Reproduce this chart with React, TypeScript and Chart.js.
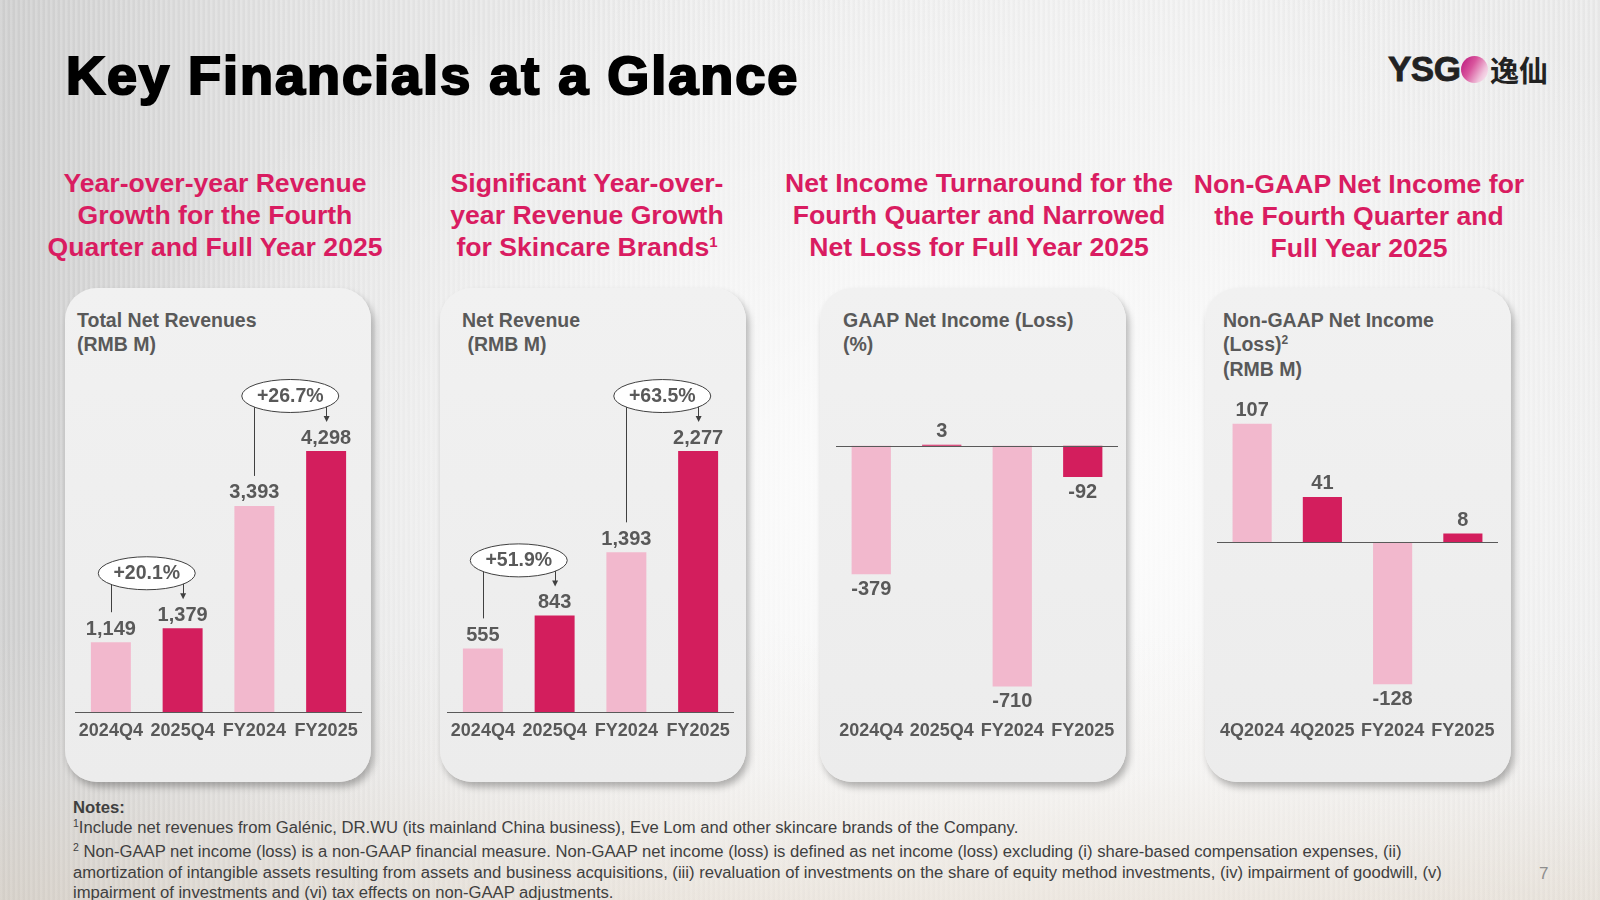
import React, { useEffect, useRef } from "react";
import { Chart, registerables } from "chart.js";

Chart.register(...registerables);

const FONT = "'Liberation Sans', Arial, Helvetica, sans-serif";
const LIGHT_PINK = "#F2B8CD";
const DEEP_PINK = "#D31E5D";
const TEXT_GRAY = "#595959";
const TITLE_PINK = "#D91C61";

// Total net revenues (RMB M)
const revenueCategories = ["2024Q4", "2025Q4", "FY2024", "FY2025"];
const totalNetRevenues = [1149, 1379, 3393, 4298];
const totalRevenueGrowth = ["+20.1%", "+26.7%"];

// Net revenue of skincare brands (RMB M)
const skincareNetRevenues = [555, 843, 1393, 2277];
const skincareRevenueGrowth = ["+51.9%", "+63.5%"];

// GAAP net income (loss)
const gaapCategories = ["2024Q4", "2025Q4", "FY2024", "FY2025"];
const gaapNetIncome = [-379, 3, -710, -92];

// Non-GAAP net income (loss) (RMB M)
const nonGaapCategories = ["4Q2024", "4Q2025", "FY2024", "FY2025"];
const nonGaapNetIncome = [107, 41, -128, 8];

// Value-axis ranges of each panel [min, max]
const totalRevenueAxis = [0, 5220];
const skincareRevenueAxis = [0, 2766];
const gaapAxis = [-785, 150];
const nonGaapAxis = [-153, 133];

const barColors = [LIGHT_PINK, DEEP_PINK, LIGHT_PINK, DEEP_PINK];

// Draws value labels, the zero line and the growth bubbles with their connectors.
const panelMarks = {
  id: "panelMarks",
  afterDatasetsDraw(chart: any, _args: any, opts: any) {
    const { ctx, chartArea, scales } = chart;
    const y = scales.y;
    const meta = chart.getDatasetMeta(0);
    const values = chart.data.datasets[0].data as number[];
    ctx.save();

    if (opts.zeroLine) {
      const y0 = Math.round(y.getPixelForValue(0)) + 0.5;
      ctx.strokeStyle = TEXT_GRAY;
      ctx.lineWidth = 1;
      ctx.beginPath();
      ctx.moveTo(chartArea.left, y0);
      ctx.lineTo(chartArea.right, y0);
      ctx.stroke();
    }

    ctx.font = `bold 20px ${FONT}`;
    ctx.fillStyle = TEXT_GRAY;
    ctx.textAlign = "center";
    ctx.textBaseline = "middle";
    meta.data.forEach((bar: any, i: number) => {
      const v = values[i];
      const py = y.getPixelForValue(v);
      ctx.fillText(v.toLocaleString("en-US"), bar.x, v >= 0 ? py - 13 : py + 15);
    });

    const growth: string[] = opts.growth || [];
    growth.forEach((label, k) => {
      const a = 2 * k;
      const b = 2 * k + 1;
      const x1 = meta.data[a].x;
      const x2 = meta.data[b].x;
      const top1 = y.getPixelForValue(values[a]);
      const top2 = y.getPixelForValue(values[b]);
      const cx = (x1 + x2) / 2;
      const cy = top2 - 55;
      const rx = 48.5;
      const ry = 16.5;

      ctx.strokeStyle = "#404040";
      ctx.fillStyle = "#404040";
      ctx.lineWidth = 1;
      // connector from the earlier bar
      ctx.beginPath();
      ctx.moveTo(Math.round(x1) + 0.5, cy);
      ctx.lineTo(Math.round(x1) + 0.5, top1 - 30);
      ctx.stroke();
      // arrow to the later bar
      const tip = top2 - 29;
      ctx.beginPath();
      ctx.moveTo(Math.round(x2) + 0.5, cy);
      ctx.lineTo(Math.round(x2) + 0.5, tip - 4);
      ctx.stroke();
      ctx.beginPath();
      ctx.moveTo(x2 + 0.5, tip);
      ctx.lineTo(x2 - 2.5, tip - 6);
      ctx.lineTo(x2 + 3.5, tip - 6);
      ctx.closePath();
      ctx.fill();

      ctx.beginPath();
      ctx.ellipse(cx, cy, rx, ry, 0, 0, Math.PI * 2);
      ctx.fillStyle = "#ffffff";
      ctx.fill();
      ctx.strokeStyle = "#404040";
      ctx.stroke();

      ctx.fillStyle = TEXT_GRAY;
      ctx.font = `bold 19.5px ${FONT}`;
      ctx.fillText(label, cx, cy + 0.5);
    });

    ctx.restore();
  },
};

type PanelProps = {
  left: number;
  width: number;
  categories: string[];
  values: number[];
  axis: number[];
  growth?: string[];
  zeroLine?: boolean;
};

const CANVAS_TOP = 370;
const CANVAS_HEIGHT = 390;

function BarPanel({ left, width, categories, values, axis, growth, zeroLine }: PanelProps) {
  const ref = useRef<HTMLCanvasElement>(null);
  useEffect(() => {
    const chart = new Chart(ref.current as HTMLCanvasElement, {
      type: "bar",
      data: {
        labels: categories,
        datasets: [
          {
            data: values,
            backgroundColor: barColors,
            borderWidth: 0,
            barPercentage: 0.557,
            categoryPercentage: 1,
          },
        ],
      },
      plugins: [panelMarks],
      options: {
        responsive: false,
        animation: false,
        events: [],
        layout: { padding: { top: 25, bottom: 0, left: 0, right: 0 } },
        plugins: {
          legend: { display: false },
          tooltip: { enabled: false },
          panelMarks: { growth: growth || [], zeroLine: !!zeroLine },
        } as any,
        scales: {
          x: {
            grid: { display: false, drawTicks: false },
            border: { display: !zeroLine, color: TEXT_GRAY, width: 1 },
            ticks: {
              color: TEXT_GRAY,
              font: { family: FONT, size: 18, weight: "bold" },
              padding: 8,
              maxRotation: 0,
              minRotation: 0,
              autoSkip: false,
            },
            afterFit: (s: any) => {
              s.height = 48;
              s.paddingLeft = 0;
              s.paddingRight = 0;
            },
          },
          y: { display: false, min: axis[0], max: axis[1] },
        },
      },
    });
    return () => chart.destroy();
  }, []);
  return (
    <canvas
      ref={ref}
      width={width}
      height={CANVAS_HEIGHT}
      style={{ position: "absolute", left, top: CANVAS_TOP, width, height: CANVAS_HEIGHT }}
    />
  );
}

function Card({ left, children }: { left: number; children?: React.ReactNode }) {
  return (
    <div
      style={{
        position: "absolute",
        left,
        top: 288,
        width: 306,
        height: 494,
        borderRadius: 32,
        background: "linear-gradient(180deg, #f1f1f1 0%, #ececec 100%)",
        boxShadow: "3px 5px 7px rgba(0,0,0,0.28)",
      }}
    >
      {children}
    </div>
  );
}

const cardTitleStyle: React.CSSProperties = {
  position: "absolute",
  top: 20,
  fontFamily: FONT,
  fontWeight: 700,
  fontSize: 19.5,
  lineHeight: "24.3px",
  color: TEXT_GRAY,
  whiteSpace: "pre",
};

const subtitleStyle: React.CSSProperties = {
  position: "absolute",
  top: 167,
  width: 440,
  textAlign: "center",
  fontFamily: FONT,
  fontWeight: 700,
  fontSize: 26.6,
  lineHeight: "32px",
  color: TITLE_PINK,
  whiteSpace: "nowrap",
};

const noteStyle: React.CSSProperties = {
  position: "absolute",
  left: 73,
  fontFamily: FONT,
  fontSize: 16.65,
  lineHeight: "20.5px",
  color: "#404040",
  whiteSpace: "nowrap",
};

export default function App() {
  return (
    <div
      style={{
        position: "absolute",
        left: 0,
        top: 0,
        width: 1600,
        height: 900,
        overflow: "hidden",
        fontFamily: FONT,
        background:
          "linear-gradient(0deg, rgba(225,210,190,0.35) 0%, rgba(240,232,222,0.15) 14%, rgba(255,255,255,0) 30%)," +
          "radial-gradient(ellipse 70% 80% at 62% 55%, rgba(255,255,255,0.95) 0%, rgba(248,248,248,0.6) 45%, rgba(255,255,255,0) 80%)," +
          "repeating-linear-gradient(90deg, rgba(255,255,255,0.10) 0px, rgba(255,255,255,0.10) 2px, rgba(0,0,0,0.025) 3px, rgba(0,0,0,0.025) 5px)," +
          "linear-gradient(90deg, #d2d2d2 0%, #e4e4e4 18%, #efefef 45%, #f2f2f2 75%, #ececec 100%)",
      }}
    >
      <div
        style={{
          position: "absolute",
          left: 66,
          top: 48,
          fontSize: 54,
          lineHeight: "54px",
          fontWeight: 700,
          letterSpacing: 2,
          WebkitTextStroke: "2.2px #000",
          color: "#000",
          whiteSpace: "nowrap",
        }}
      >
        Key Financials at a Glance
      </div>

      {/* brand mark */}
      <div
        style={{
          position: "absolute",
          left: 1388,
          top: 50,
          fontSize: 35,
          lineHeight: "38px",
          fontWeight: 700,
          color: "#222",
          letterSpacing: -0.5,
          WebkitTextStroke: "0.8px #222",
        }}
      >
        YSG
      </div>
      <div
        style={{
          position: "absolute",
          left: 1461,
          top: 56,
          width: 27,
          height: 27,
          borderRadius: "50%",
          background: "linear-gradient(120deg, #b8137a 0%, #d9559d 40%, #f0c4dc 75%, #fbf3f7 100%)",
        }}
      />
      <div
        style={{
          position: "absolute",
          left: 1490,
          top: 52,
          fontFamily: "'Noto Sans CJK SC', sans-serif",
          fontSize: 29,
          lineHeight: "34px",
          fontWeight: 700,
          color: "#222",
        }}
      >
        逸仙
      </div>

      <div style={{ ...subtitleStyle, left: 215 - 220 }}>
        Year-over-year Revenue
        <br />
        Growth for the Fourth
        <br />
        Quarter and Full Year 2025
      </div>
      <div style={{ ...subtitleStyle, left: 587 - 220 }}>
        Significant Year-over-
        <br />
        year Revenue Growth
        <br />
        for Skincare Brands<sup style={{ fontSize: 15, lineHeight: 0, verticalAlign: "9px" }}>1</sup>
      </div>
      <div style={{ ...subtitleStyle, left: 979 - 220 }}>
        Net Income Turnaround for the
        <br />
        Fourth Quarter and Narrowed
        <br />
        Net Loss for Full Year 2025
      </div>
      <div style={{ ...subtitleStyle, left: 1359 - 220, top: 168 }}>
        Non-GAAP Net Income for
        <br />
        the Fourth Quarter and
        <br />
        Full Year 2025
      </div>

      <Card left={65}>
        <div style={{ ...cardTitleStyle, left: 12 }}>
          {"Total Net Revenues\n(RMB M)"}
        </div>
      </Card>
      <Card left={440}>
        <div style={{ ...cardTitleStyle, left: 22 }}>
          {"Net Revenue\n (RMB M)"}
        </div>
      </Card>
      <Card left={820}>
        <div style={{ ...cardTitleStyle, left: 23 }}>
          {"GAAP Net Income (Loss)\n(%)"}
        </div>
      </Card>
      <Card left={1205}>
        <div style={{ ...cardTitleStyle, left: 18 }}>
          {"Non-GAAP Net Income\n(Loss)"}
          <sup style={{ fontSize: 12, lineHeight: 0, verticalAlign: "7px" }}>2</sup>
          {"\n(RMB M)"}
        </div>
      </Card>

      <BarPanel
        left={75}
        width={287}
        categories={revenueCategories}
        values={totalNetRevenues}
        axis={totalRevenueAxis}
        growth={totalRevenueGrowth}
      />
      <BarPanel
        left={447}
        width={287}
        categories={revenueCategories}
        values={skincareNetRevenues}
        axis={skincareRevenueAxis}
        growth={skincareRevenueGrowth}
      />
      <BarPanel
        left={836}
        width={282}
        categories={gaapCategories}
        values={gaapNetIncome}
        axis={gaapAxis}
        zeroLine
      />
      <BarPanel
        left={1217}
        width={281}
        categories={nonGaapCategories}
        values={nonGaapNetIncome}
        axis={nonGaapAxis}
        zeroLine
      />

      <div style={{ ...noteStyle, top: 797.5, fontWeight: 700 }}>Notes:</div>
      <div style={{ ...noteStyle, top: 818 }}>
        <sup style={{ fontSize: 10.5, lineHeight: 0, verticalAlign: "6px" }}>1</sup>
        Include net revenues from Galénic, DR.WU (its mainland China business), Eve Lom and other skincare brands of the Company.
      </div>
      <div style={{ ...noteStyle, top: 842 }}>
        <sup style={{ fontSize: 10.5, lineHeight: 0, verticalAlign: "6px" }}>2</sup> Non-GAAP net income (loss) is a non-GAAP financial
        measure. Non-GAAP net income (loss) is defined as net income (loss) excluding (i) share-based compensation expenses, (ii)
        <br />
        amortization of intangible assets resulting from assets and business acquisitions, (iii) revaluation of investments on the
        share of equity method investments, (iv) impairment of goodwill, (v)
        <br />
        impairment of investments and (vi) tax effects on non-GAAP adjustments.
      </div>
      <div
        style={{
          position: "absolute",
          left: 1539,
          top: 864,
          fontSize: 17,
          lineHeight: "20px",
          color: "#8e8e8e",
        }}
      >
        7
      </div>
    </div>
  );
}
